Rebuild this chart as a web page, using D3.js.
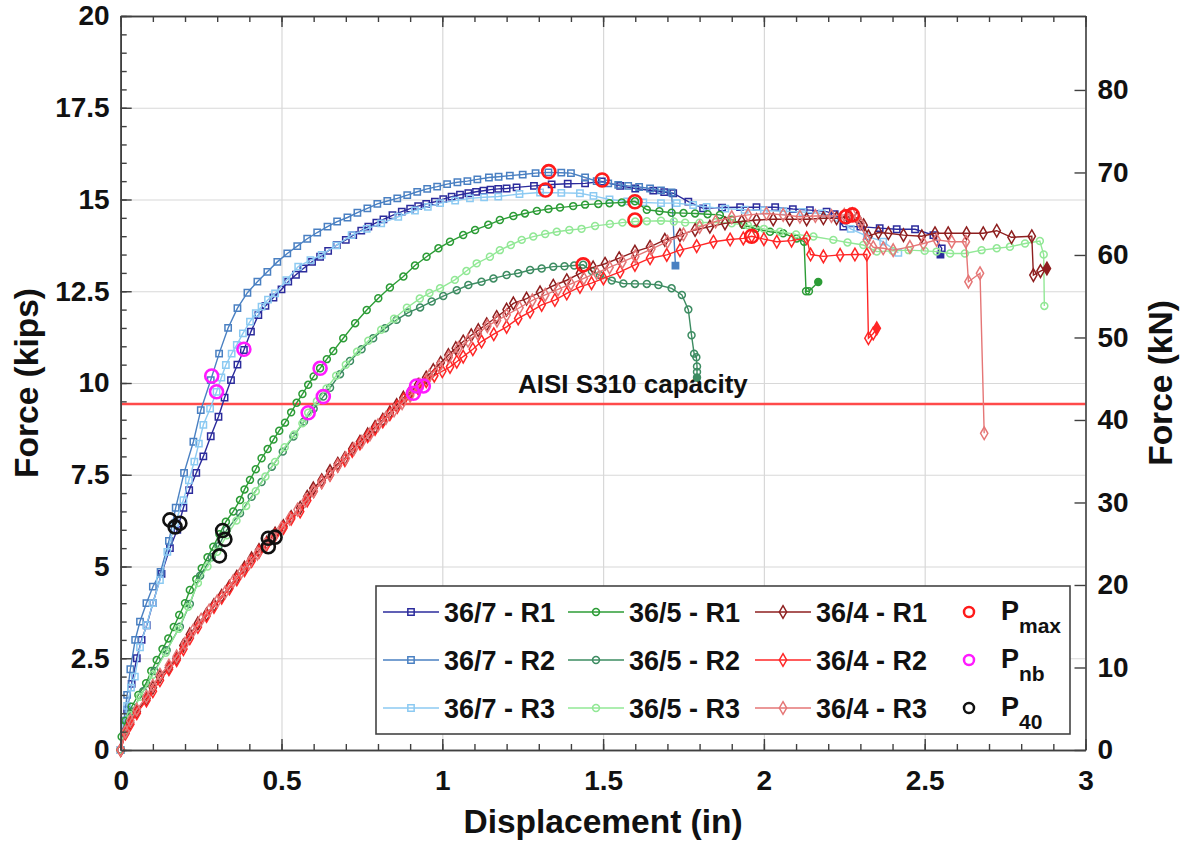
<!DOCTYPE html>
<html>
<head>
<meta charset="utf-8">
<script src="https://cdn.jsdelivr.net/npm/d3@7"></script>
<style>
body { margin: 0; background: #fff; }
text { font-family: 'Liberation Sans', Arial, sans-serif; font-weight: bold; fill: #111; }
</style>
</head>
<body>
<svg id="chart" width="1185" height="846"></svg>
<script>
// ---- data: [displacement (in), force (kips)] ----
var s36_7_R1 = [[0,0],[0.01,0.5],[0.02,1.1],[0.034,1.8],[0.05,2.5],[0.065,3.0],[0.081,3.4],[0.1,4.0],[0.127,4.8],[0.153,5.5],[0.176,6.0],[0.195,6.6],[0.213,7.08],[0.235,7.55],[0.257,8.0],[0.28,8.55],[0.304,9.08],[0.323,9.6],[0.343,10.08],[0.363,10.5],[0.383,10.9],[0.405,11.4],[0.428,11.85],[0.45,12.1],[0.475,12.33],[0.5,12.55],[0.521,12.76],[0.545,12.95],[0.568,13.12],[0.595,13.3],[0.62,13.44],[0.645,13.6],[0.672,13.76],[0.7,13.9],[0.723,14.03],[0.748,14.15],[0.77,14.26],[0.795,14.37],[0.817,14.46],[0.845,14.57],[0.874,14.67],[0.9,14.75],[0.925,14.82],[0.95,14.88],[0.977,14.94],[1.003,15.01],[1.029,15.08],[1.055,15.13],[1.081,15.17],[1.105,15.21],[1.128,15.24],[1.15,15.27],[1.174,15.29],[1.2,15.3],[1.231,15.33],[1.285,15.37],[1.34,15.41],[1.39,15.43],[1.444,15.44],[1.496,15.49],[1.553,15.37],[1.6,15.3],[1.656,15.24],[1.69,15.2],[1.718,15.17],[1.765,14.94],[1.811,14.76],[1.87,14.78],[1.926,14.79],[1.977,14.79],[2.035,14.79],[2.09,14.74],[2.143,14.71],[2.195,14.67],[2.22,14.6],[2.247,14.26],[2.3,14.26],[2.36,14.22],[2.413,14.19],[2.47,14.19],[2.527,14.03],[2.553,13.67],[2.549,13.5]];
var s36_7_R2 = [[0,0],[0.01,0.8],[0.02,1.5],[0.03,2.2],[0.045,3.0],[0.06,3.5],[0.08,4.0],[0.1,4.45],[0.124,4.85],[0.15,5.7],[0.171,6.6],[0.197,7.55],[0.226,8.4],[0.249,9.26],[0.28,10.08],[0.306,10.8],[0.334,11.5],[0.363,12.04],[0.394,12.46],[0.425,12.76],[0.456,13.03],[0.487,13.3],[0.518,13.53],[0.549,13.73],[0.58,13.93],[0.611,14.1],[0.643,14.26],[0.673,14.4],[0.705,14.51],[0.736,14.64],[0.767,14.76],[0.798,14.88],[0.829,14.96],[0.86,15.03],[0.891,15.12],[0.922,15.21],[0.953,15.29],[0.984,15.35],[1.015,15.42],[1.047,15.47],[1.078,15.5],[1.109,15.55],[1.145,15.6],[1.175,15.62],[1.21,15.65],[1.25,15.68],[1.29,15.72],[1.33,15.74],[1.37,15.73],[1.4,15.72],[1.444,15.6],[1.48,15.5],[1.516,15.44],[1.547,15.4],[1.578,15.37],[1.612,15.34],[1.646,15.3],[1.68,15.25],[1.713,15.19],[1.725,13.2]];
var s36_7_R3 = [[0,0],[0.01,0.6],[0.02,1.2],[0.032,1.7],[0.044,2.0],[0.06,2.8],[0.08,3.4],[0.1,4.0],[0.122,4.63],[0.145,5.4],[0.169,6.18],[0.195,6.81],[0.212,7.35],[0.229,7.86],[0.243,8.35],[0.257,8.86],[0.278,9.3],[0.298,9.76],[0.313,10.15],[0.327,10.49],[0.345,10.8],[0.361,11.04],[0.38,11.35],[0.402,11.67],[0.42,11.9],[0.438,12.08],[0.458,12.27],[0.48,12.44],[0.515,12.8],[0.552,13.17],[0.59,13.35],[0.625,13.49],[0.67,13.75],[0.718,14.03],[0.765,14.2],[0.81,14.35],[0.863,14.53],[0.915,14.7],[0.955,14.8],[0.993,14.9],[1.04,14.97],[1.086,15.03],[1.13,15.06],[1.174,15.08],[1.24,15.15],[1.304,15.19],[1.37,15.18],[1.428,15.17],[1.47,15.1],[1.52,15.0],[1.575,14.95],[1.625,14.92],[1.68,14.9],[1.729,14.9],[1.78,14.85],[1.822,14.8],[1.88,14.75],[1.94,14.72],[2.0,14.7],[2.06,14.68],[2.12,14.66],[2.18,14.62],[2.23,14.5],[2.27,14.2],[2.32,14.0],[2.371,13.85],[2.418,13.55]];
var s36_5_R1 = [[0,0],[0.003,0.36],[0.015,0.8],[0.034,1.18],[0.055,1.5],[0.079,1.82],[0.095,2.15],[0.112,2.45],[0.13,2.75],[0.148,3.04],[0.165,3.35],[0.182,3.68],[0.2,4.0],[0.215,4.36],[0.235,4.65],[0.252,4.95],[0.27,5.25],[0.288,5.54],[0.307,5.88],[0.327,6.22],[0.35,6.5],[0.371,6.81],[0.385,7.1],[0.402,7.36],[0.42,7.65],[0.438,7.95],[0.457,8.2],[0.475,8.46],[0.493,8.7],[0.511,8.92],[0.53,9.2],[0.547,9.46],[0.565,9.7],[0.583,9.95],[0.6,10.18],[0.62,10.4],[0.641,10.65],[0.661,10.87],[0.692,11.22],[0.729,11.63],[0.765,11.99],[0.801,12.31],[0.837,12.6],[0.879,12.9],[0.915,13.2],[0.951,13.44],[0.988,13.67],[1.024,13.85],[1.065,14.03],[1.102,14.17],[1.143,14.31],[1.179,14.44],[1.221,14.55],[1.257,14.62],[1.294,14.69],[1.33,14.74],[1.366,14.78],[1.407,14.82],[1.444,14.86],[1.485,14.88],[1.52,14.9],[1.558,14.92],[1.599,14.95],[1.636,14.72],[1.675,14.68],[1.713,14.64],[1.75,14.63],[1.786,14.62],[1.825,14.6],[1.863,14.58],[1.9,14.45],[1.936,14.31],[1.975,14.2],[2.019,14.12],[2.06,14.08],[2.102,13.94],[2.125,13.85],[2.131,12.5],[2.14,12.5],[2.169,12.75]];
var s36_5_R2 = [[0,0],[0.01,0.45],[0.034,1.05],[0.07,1.6],[0.105,2.15],[0.143,2.72],[0.184,3.36],[0.215,3.98],[0.247,4.75],[0.283,5.25],[0.304,5.55],[0.33,6.0],[0.371,6.45],[0.407,6.9],[0.438,7.3],[0.47,7.72],[0.504,8.13],[0.537,8.54],[0.57,8.95],[0.6,9.3],[0.63,9.63],[0.651,9.87],[0.682,10.24],[0.713,10.6],[0.749,10.92],[0.785,11.22],[0.822,11.49],[0.858,11.72],[0.894,11.92],[0.931,12.06],[0.967,12.22],[1.003,12.37],[1.045,12.53],[1.081,12.67],[1.122,12.76],[1.159,12.85],[1.2,12.94],[1.236,12.99],[1.273,13.08],[1.309,13.12],[1.345,13.17],[1.38,13.18],[1.41,13.2],[1.438,13.22],[1.465,13.05],[1.49,12.94],[1.527,12.79],[1.563,12.71],[1.599,12.7],[1.636,12.7],[1.672,12.67],[1.713,12.58],[1.745,12.4],[1.765,12.0],[1.775,11.3],[1.783,10.8],[1.79,10.7],[1.792,10.45],[1.792,10.3],[1.792,10.15]];
var s36_5_R3 = [[0,0],[0.01,0.4],[0.03,0.95],[0.06,1.45],[0.1,2.05],[0.14,2.65],[0.18,3.3],[0.21,3.9],[0.24,4.55],[0.27,5.0],[0.3,5.4],[0.33,5.85],[0.36,6.25],[0.39,6.65],[0.42,7.05],[0.45,7.45],[0.48,7.85],[0.51,8.25],[0.54,8.6],[0.565,8.9],[0.583,9.19],[0.61,9.5],[0.64,9.85],[0.67,10.2],[0.7,10.5],[0.735,10.85],[0.77,11.15],[0.81,11.45],[0.85,11.75],[0.89,12.05],[0.93,12.3],[0.96,12.45],[0.993,12.58],[1.039,12.81],[1.075,13.05],[1.107,13.26],[1.148,13.44],[1.179,13.62],[1.213,13.76],[1.247,13.9],[1.283,13.99],[1.32,14.06],[1.356,14.12],[1.395,14.17],[1.433,14.2],[1.475,14.28],[1.521,14.33],[1.56,14.37],[1.6,14.4],[1.636,14.41],[1.68,14.42],[1.72,14.4],[1.755,14.37],[1.8,14.37],[1.85,14.38],[1.9,14.35],[1.95,14.3],[2.0,14.2],[2.05,14.12],[2.1,14.05],[2.154,13.99],[2.216,13.9],[2.26,13.83],[2.309,13.76],[2.351,13.58],[2.4,13.6],[2.45,13.62],[2.5,13.6],[2.537,13.58],[2.579,13.53],[2.625,13.53],[2.677,13.62],[2.724,13.67],[2.765,13.71],[2.812,13.8],[2.858,13.87],[2.87,13.5],[2.872,12.1]];
var s36_4_R1 = [[0,0],[0.015,0.5],[0.029,0.75],[0.05,1.05],[0.08,1.4],[0.1,1.7],[0.122,2.0],[0.15,2.25],[0.174,2.5],[0.195,2.85],[0.215,3.15],[0.24,3.45],[0.267,3.7],[0.29,3.95],[0.314,4.2],[0.338,4.45],[0.361,4.72],[0.385,4.97],[0.407,5.22],[0.43,5.45],[0.454,5.65],[0.48,5.9],[0.506,6.1],[0.53,6.35],[0.558,6.6],[0.58,6.9],[0.599,7.13],[0.625,7.35],[0.651,7.6],[0.675,7.8],[0.697,7.95],[0.72,8.2],[0.744,8.4],[0.768,8.6],[0.791,8.8],[0.815,9.0],[0.837,9.2],[0.858,9.4],[0.879,9.6],[0.9,9.75],[0.925,9.95],[0.95,10.15],[0.972,10.35],[0.995,10.55],[1.019,10.76],[1.042,10.95],[1.065,11.13],[1.09,11.3],[1.112,11.44],[1.138,11.6],[1.169,11.8],[1.2,12.0],[1.221,12.17],[1.262,12.3],[1.304,12.47],[1.345,12.65],[1.387,12.8],[1.428,12.99],[1.469,13.15],[1.506,13.25],[1.55,13.4],[1.599,13.58],[1.646,13.71],[1.692,13.9],[1.739,14.03],[1.786,14.17],[1.832,14.26],[1.879,14.35],[1.931,14.4],[1.977,14.44],[2.029,14.46],[2.08,14.46],[2.133,14.46],[2.185,14.49],[2.226,14.49],[2.26,14.53],[2.29,14.5],[2.31,14.3],[2.325,14.0],[2.356,14.1],[2.387,14.08],[2.434,14.03],[2.491,14.0],[2.532,14.08],[2.573,14.08],[2.63,14.08],[2.682,14.08],[2.724,14.15],[2.77,13.97],[2.833,14.0],[2.838,12.94],[2.86,13.05],[2.88,13.12]];
var s36_4_R2 = [[0,0],[0.015,0.45],[0.03,0.7],[0.05,1.0],[0.08,1.35],[0.1,1.6],[0.122,1.9],[0.15,2.2],[0.174,2.45],[0.195,2.75],[0.215,3.05],[0.24,3.35],[0.267,3.65],[0.29,3.9],[0.314,4.15],[0.338,4.4],[0.361,4.65],[0.385,4.9],[0.407,5.15],[0.43,5.4],[0.454,5.6],[0.48,5.85],[0.506,6.05],[0.53,6.3],[0.558,6.5],[0.58,6.8],[0.6,7.05],[0.625,7.3],[0.651,7.5],[0.675,7.75],[0.697,7.9],[0.72,8.15],[0.744,8.35],[0.768,8.55],[0.791,8.75],[0.815,8.95],[0.837,9.15],[0.86,9.35],[0.88,9.55],[0.9,9.7],[0.925,9.85],[0.95,10.05],[0.975,10.2],[1.0,10.32],[1.024,10.44],[1.045,10.58],[1.065,10.72],[1.095,10.92],[1.122,11.13],[1.16,11.33],[1.2,11.53],[1.236,11.76],[1.273,11.94],[1.309,12.13],[1.35,12.26],[1.387,12.44],[1.428,12.62],[1.464,12.72],[1.501,12.85],[1.553,13.03],[1.599,13.22],[1.646,13.4],[1.698,13.49],[1.739,13.62],[1.791,13.73],[1.843,13.85],[1.895,13.91],[1.936,13.94],[1.962,14.0],[2.0,13.92],[2.04,13.85],[2.086,13.88],[2.133,13.95],[2.145,13.5],[2.185,13.45],[2.237,13.49],[2.283,13.5],[2.32,13.5],[2.325,11.22],[2.34,11.35],[2.351,11.49]];
var s36_4_R3 = [[0,0],[0.015,0.5],[0.03,0.8],[0.05,1.1],[0.08,1.45],[0.1,1.75],[0.122,2.05],[0.15,2.3],[0.174,2.55],[0.2,2.9],[0.225,3.25],[0.25,3.55],[0.275,3.8],[0.3,4.05],[0.325,4.3],[0.35,4.6],[0.375,4.85],[0.4,5.1],[0.425,5.35],[0.45,5.6],[0.475,5.8],[0.5,6.05],[0.525,6.3],[0.55,6.55],[0.575,6.8],[0.6,7.05],[0.625,7.3],[0.65,7.5],[0.675,7.75],[0.7,7.95],[0.725,8.2],[0.75,8.4],[0.775,8.6],[0.8,8.85],[0.825,9.05],[0.85,9.25],[0.875,9.45],[0.9,9.65],[0.93,9.95],[0.96,10.2],[0.99,10.45],[1.02,10.7],[1.05,10.95],[1.08,11.15],[1.11,11.35],[1.14,11.55],[1.17,11.7],[1.2,11.85],[1.24,12.05],[1.28,12.25],[1.32,12.4],[1.36,12.55],[1.4,12.7],[1.44,12.85],[1.48,13.0],[1.52,13.15],[1.56,13.3],[1.6,13.45],[1.65,13.65],[1.7,13.85],[1.75,14.05],[1.8,14.25],[1.85,14.4],[1.9,14.52],[1.951,14.58],[2.008,14.62],[2.06,14.58],[2.112,14.53],[2.16,14.55],[2.21,14.55],[2.25,14.58],[2.275,14.6],[2.3,14.35],[2.32,13.9],[2.34,13.7],[2.371,13.67],[2.402,13.62],[2.454,13.71],[2.496,13.8],[2.537,13.9],[2.584,13.85],[2.628,13.85],[2.636,12.76],[2.672,12.99],[2.685,8.63]];

// characteristic points
var pMax = [[1.331,15.76],[1.321,15.26],[1.497,15.53],[1.599,14.94],[1.599,14.44],[1.438,13.22],[1.962,14.0],[2.255,14.53],[2.275,14.58]];
var pNb  = [[0.283,10.19],[0.298,9.76],[0.383,10.92],[0.62,10.4],[0.63,9.63],[0.583,9.19],[0.91,9.72],[0.92,9.92],[0.941,9.92]];
var p40  = [[0.153,6.27],[0.169,6.08],[0.184,6.18],[0.317,5.98],[0.324,5.74],[0.307,5.29],[0.459,5.77],[0.459,5.54],[0.48,5.8]];

var capacity = 9.43;   // AISI S310 capacity, kips

var seriesNames = ['36/7 - R1','36/7 - R2','36/7 - R3','36/5 - R1','36/5 - R2','36/5 - R3','36/4 - R1','36/4 - R2','36/4 - R3'];
var pLabels = [['P','max'],['P','nb'],['P','40']];

var xTicks = [0, 0.5, 1, 1.5, 2, 2.5, 3];
var xTickLabels = ['0','0.5','1','1.5','2','2.5','3'];
var yTicks = [0, 2.5, 5, 7.5, 10, 12.5, 15, 17.5, 20];
var yTickLabels = ['0','2.5','5','7.5','10','12.5','15','17.5','20'];
var kNTicks = [0, 10, 20, 30, 40, 50, 60, 70, 80];
var kNTickLabels = ['0','10','20','30','40','50','60','70','80'];

// ---- styles ----
var colors = ['#2b2b9c','#4a80c2','#8ccaf2','#2c9c36','#3d8c62','#92e896','#8e1f1f','#ff2626','#e57676'];
var shapes = [d3.symbolSquare, d3.symbolSquare, d3.symbolSquare, d3.symbolCircle, d3.symbolCircle, d3.symbolCircle, d3.symbolDiamond, d3.symbolDiamond, d3.symbolDiamond];
var shapeSizes = [40, 40, 40, 38, 38, 38, 46, 46, 46];
var filledEnd = [true, true, false, true, true, false, true, true, false];
var allData = [s36_7_R1, s36_7_R2, s36_7_R3, s36_5_R1, s36_5_R2, s36_5_R3, s36_4_R1, s36_4_R2, s36_4_R3];

var plotL = 120.7, plotR = 1085.5, plotT = 16, plotB = 750;

var svg = d3.select('#chart');

var x = d3.scaleLinear().domain([0, 3]).range([plotL, plotR]);
var y = d3.scaleLinear().domain([0, 20]).range([plotB, plotT]);
var yKN = d3.scaleLinear().domain([0, 20 * 4.44822]).range([plotB, plotT]);

// grid
svg.append('g')
  .attr('transform', 'translate(0,' + plotB + ')')
  .call(d3.axisBottom(x).tickValues(xTicks).tickSize(-(plotB - plotT)).tickFormat(''))
  .call(function(g) { g.select('.domain').remove(); })
  .selectAll('line').attr('stroke', '#d8d8d8').attr('stroke-width', 1.2);

svg.append('g')
  .attr('transform', 'translate(' + plotL + ',0)')
  .call(d3.axisLeft(y).tickValues(yTicks).tickSize(-(plotR - plotL)).tickFormat(''))
  .call(function(g) { g.select('.domain').remove(); })
  .selectAll('line').attr('stroke', '#d8d8d8').attr('stroke-width', 1.2);

// capacity line
svg.append('line')
  .attr('x1', plotL).attr('x2', plotR)
  .attr('y1', y(capacity)).attr('y2', y(capacity))
  .attr('stroke', '#ff4a4a')
  .attr('stroke-width', 2.5);

svg.append('text')
  .attr('x', 518)
  .attr('y', y(capacity) - 11)
  .attr('font-size', 26)
  .text('AISI S310 capacity');

// series
var line = d3.line().x(function(d) { return x(d[0]); }).y(function(d) { return y(d[1]); });

allData.forEach(function(data, i) {
  var g = svg.append('g');
  g.append('path')
    .attr('d', line(data))
    .attr('fill', 'none')
    .attr('stroke', colors[i])
    .attr('stroke-width', 1.4);
  g.selectAll('path.mk')
    .data(data)
    .enter()
    .append('path')
      .attr('class', 'mk')
      .attr('d', d3.symbol().type(shapes[i]).size(shapeSizes[i]))
      .attr('transform', function(d) { return 'translate(' + x(d[0]) + ',' + y(d[1]) + ')'; })
      .attr('fill', function(d, j) { return (filledEnd[i] && j === data.length - 1) ? colors[i] : 'none'; })
      .attr('stroke', colors[i])
      .attr('stroke-width', 1.5);
});

// characteristic points
var pColors = ['#ff1a1a', '#ff1aff', '#111111'];
[pMax, pNb, p40].forEach(function(pts, k) {
  svg.append('g')
    .selectAll('circle')
    .data(pts)
    .enter()
    .append('circle')
      .attr('cx', function(d) { return x(d[0]); })
      .attr('cy', function(d) { return y(d[1]); })
      .attr('r', 6.5)
      .attr('fill', 'none')
      .attr('stroke', pColors[k])
      .attr('stroke-width', 2.6);
});

// axes (drawn last so the frame and inward ticks sit on top)
function styleAxis(g) {
  g.select('.domain').attr('stroke', '#404040').attr('stroke-width', 1.6);
  g.selectAll('line').attr('stroke', '#404040').attr('stroke-width', 1.4);
  g.selectAll('text').attr('font-size', 28).attr('fill', '#111').style('font-family', "'Liberation Sans', Arial, sans-serif").style('font-weight', 'bold');
}

svg.append('g')
  .attr('transform', 'translate(0,' + plotB + ')')
  .call(d3.axisBottom(x).tickValues(d3.range(0, 3.001, 0.1)).tickSize(-6).tickSizeOuter(0).tickFormat(''))
  .call(styleAxis);
svg.append('g')
  .attr('transform', 'translate(0,' + plotB + ')')
  .call(d3.axisBottom(x).tickValues(xTicks).tickSize(-11).tickSizeOuter(0).tickPadding(20)
    .tickFormat(function(d, i) { return xTickLabels[i]; }))
  .call(styleAxis);

svg.append('g')
  .attr('transform', 'translate(0,' + plotT + ')')
  .call(d3.axisTop(x).tickValues(d3.range(0, 3.001, 0.1)).tickSize(-6).tickSizeOuter(0).tickFormat(''))
  .call(styleAxis);
svg.append('g')
  .attr('transform', 'translate(0,' + plotT + ')')
  .call(d3.axisTop(x).tickValues(xTicks).tickSize(-11).tickSizeOuter(0).tickFormat(''))
  .call(styleAxis);

svg.append('g')
  .attr('transform', 'translate(' + plotL + ',0)')
  .call(d3.axisLeft(y).tickValues(d3.range(0, 20.01, 0.5)).tickSize(-6).tickSizeOuter(0).tickFormat(''))
  .call(styleAxis);
svg.append('g')
  .attr('transform', 'translate(' + plotL + ',0)')
  .call(d3.axisLeft(y).tickValues(yTicks).tickSize(-11).tickSizeOuter(0).tickPadding(11)
    .tickFormat(function(d, i) { return yTickLabels[i]; }))
  .call(styleAxis);

svg.append('g')
  .attr('transform', 'translate(' + plotR + ',0)')
  .call(d3.axisRight(yKN).tickValues(kNTicks).tickSize(-11).tickSizeOuter(0).tickPadding(12)
    .tickFormat(function(d, i) { return kNTickLabels[i]; }))
  .call(styleAxis);

// axis titles
svg.append('text')
  .attr('x', (plotL + plotR) / 2)
  .attr('y', 833)
  .attr('text-anchor', 'middle')
  .attr('font-size', 33.5)
  .text('Displacement (in)');

svg.append('text')
  .attr('transform', 'translate(38,' + (plotT + plotB) / 2 + ') rotate(-90)')
  .attr('text-anchor', 'middle')
  .attr('font-size', 33.5)
  .text('Force (kips)');

svg.append('text')
  .attr('transform', 'translate(1172,' + (plotT + plotB) / 2 + ') rotate(-90)')
  .attr('text-anchor', 'middle')
  .attr('font-size', 33.5)
  .text('Force (kN)');

// legend
var legend = svg.append('g');
legend.append('rect')
  .attr('x', 376).attr('y', 586)
  .attr('width', 694).attr('height', 148)
  .attr('fill', '#fff')
  .attr('stroke', '#444')
  .attr('stroke-width', 1.6);

var colX = [383, 568, 755];
var rowY = [612, 660, 708];

seriesNames.forEach(function(name, i) {
  var cx = colX[Math.floor(i / 3)], cy = rowY[i % 3];
  legend.append('line')
    .attr('x1', cx).attr('x2', cx + 56)
    .attr('y1', cy).attr('y2', cy)
    .attr('stroke', colors[i]).attr('stroke-width', 1.4);
  legend.append('path')
    .attr('d', d3.symbol().type(shapes[i]).size(shapeSizes[i]))
    .attr('transform', 'translate(' + (cx + 28) + ',' + cy + ')')
    .attr('fill', 'none')
    .attr('stroke', colors[i])
    .attr('stroke-width', 1.5);
  legend.append('text')
    .attr('x', cx + 61)
    .attr('y', cy + 10)
    .attr('font-size', 27)
    .text(name);
});

pLabels.forEach(function(lab, k) {
  var cy = rowY[k];
  legend.append('circle')
    .attr('cx', 969).attr('cy', cy)
    .attr('r', 5)
    .attr('fill', 'none')
    .attr('stroke', pColors[k])
    .attr('stroke-width', 2.5);
  var t = legend.append('text')
    .attr('x', 1001)
    .attr('y', cy + 8)
    .attr('font-size', 27);
  t.append('tspan').text(lab[0]);
  t.append('tspan')
    .attr('font-size', 21)
    .attr('dy', 13)
    .text(lab[1]);
});
</script>
</body>
</html>
